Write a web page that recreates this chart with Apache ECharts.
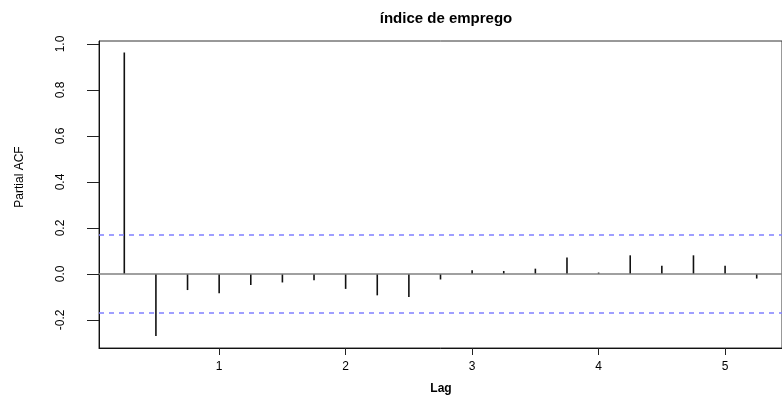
<!DOCTYPE html>
<html>
<head>
<meta charset="utf-8">
<script src="https://cdn.jsdelivr.net/npm/echarts@6/dist/echarts.min.js"></script>
<style>
html,body{margin:0;padding:0;background:#fff;}
#chart{width:782px;height:395px;}
</style>
</head>
<body>
<div id="chart"></div>
<script>
const lags = [0.25,0.5,0.75,1,1.25,1.5,1.75,2,2.25,2.5,2.75,3,3.25,3.5,3.75,4,4.25,4.5,4.75,5,5.25];
const pacfValues = [0.963,-0.27,-0.07,-0.084,-0.048,-0.037,-0.027,-0.065,-0.093,-0.10,-0.024,0.016,0.013,0.023,0.071,0.006,0.081,0.036,0.081,0.036,-0.02];
const confLimit = 0.168;
const xTicks = [1,2,3,4,5];
const yTicks = [-0.2,0,0.2,0.4,0.6,0.8,1.0];
const titleText = 'índice de emprego';
const xName = 'Lag';
const yName = 'Partial ACF';

const FONT = '"Liberation Sans", Arial, Helvetica, sans-serif';
const chart = echarts.init(document.getElementById('chart'), null, {renderer:'canvas'});

const spikeData = lags.map((l,i)=>[l, pacfValues[i]]);

chart.setOption({
  animation:false,
  backgroundColor:'#fff',
  title:{
    text:titleText, left:441, top:6, textAlign:'center',
    textStyle:{fontFamily:FONT, fontSize:15, fontWeight:'bold', color:'#000'}
  },
  grid:{left:99, top:41, width:686, height:307, show:true, borderColor:'#333', borderWidth:1, backgroundColor:'transparent'},
  xAxis:{
    type:'value', min:0.05, max:5.45,
    axisLine:{show:true, onZero:false, lineStyle:{color:'#111', width:1}},
    splitLine:{show:false},
    axisTick:{show:true, customValues:xTicks, length:7, lineStyle:{color:'#222', width:1}},
    axisLabel:{show:true, customValues:xTicks, margin:13, color:'#000', fontFamily:FONT, fontSize:12,
      formatter:v=>String(v)}
  },
  yAxis:{
    type:'value', min:-0.322, max:1.013,
    axisLine:{show:true, onZero:false, lineStyle:{color:'#111', width:1}},
    splitLine:{show:false},
    axisTick:{show:true, customValues:yTicks, length:12, lineStyle:{color:'#222', width:1}},
    axisLabel:{show:true, customValues:yTicks, rotate:90, margin:32, color:'#000', fontFamily:FONT, fontSize:12,
      formatter:v=>v.toFixed(1)}
  },
  graphic:[
    {type:'text', x:441, y:389, style:{text:xName, fill:'#000', font:'bold 12px '+FONT, textAlign:'center', textVerticalAlign:'middle'}},
    {type:'text', x:20, y:177, rotation:Math.PI/2, style:{text:yName, fill:'#000', font:'12px '+FONT, textAlign:'center', textVerticalAlign:'middle'}}
  ],
  series:[
    {
      type:'custom',
      data:spikeData,
      renderItem:(params, api)=>{
        const p0 = api.coord([api.value(0), 0]);
        const p1 = api.coord([api.value(0), api.value(1)]);
        return {type:'line', shape:{x1:p0[0], y1:p0[1], x2:p1[0], y2:p1[1]}, style:{stroke:'#111', lineWidth:1.6}};
      },
      markLine:{
        symbol:'none', silent:true, label:{show:false},
        data:[
          {yAxis:0, lineStyle:{color:'#808080', width:1.5, type:'solid'}},
          {yAxis:confLimit, lineStyle:{color:'#8080ff', width:1.5, type:[5,5]}},
          {yAxis:-confLimit, lineStyle:{color:'#8080ff', width:1.5, type:[5,5]}}
        ]
      }
    }
  ]
});
</script>
</body>
</html>
